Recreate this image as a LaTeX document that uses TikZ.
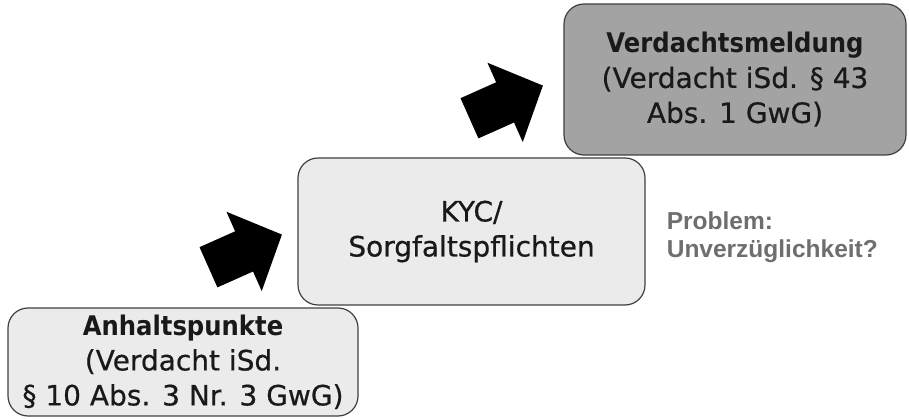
\documentclass[tikz,border=0pt]{standalone}
\usepackage{fontspec}
\setmainfont{DejaVu Sans}[UprightFeatures={FakeBold=0.6},BoldFeatures={FakeStretch=0.9}]
\newfontfamily\notefont{Liberation Sans}
\usetikzlibrary{positioning}
\definecolor{boxlight}{HTML}{EBEBEB}
\definecolor{boxdark}{HTML}{A3A3A3}
\definecolor{boxline}{HTML}{3F3F3F}
\definecolor{notegray}{HTML}{6E6E6E}
\tikzset{
  stage/.style={draw=boxline, line width=1.2pt, rounded corners=20pt,
    align=center, text=black!90, inner sep=0pt,
    font=\fontsize{28}{35}\selectfont},
  blockarrow/.pic={
    \fill (-40,-22) -- (-1,-22) -- (-1,-43.4) -- (40.4,0)
      -- (-1,43.4) -- (-1,22) -- (-40,22) -- cycle;}
}
\newcommand\steptitle[1]{{\fontsize{27}{35}\selectfont\bfseries #1}}
\begin{document}
\begin{tikzpicture}[x=1pt,y=1pt]
\useasboundingbox (0,0) rectangle (909,418);
% the three steps
\node[stage, fill=boxlight, minimum width=350pt, minimum height=108pt] (anhalt) at (183,56)
  {\steptitle{Anhaltspunkte}\\(Verdacht iSd.\\§ 10 Abs. 3 Nr. 3 GwG)};
\node[stage, fill=boxlight, minimum width=347pt, minimum height=147pt] (kyc) at (471.5,186.5)
  {KYC/\\Sorgfaltspflichten};
\node[stage, fill=boxdark, minimum width=342pt, minimum height=151pt] (meldung) at (735,338.5)
  {\steptitle{Verdachtsmeldung}\\(Verdacht iSd. § 43\\Abs. 1 GwG)};
% arrows between the steps
\pic[rotate=24] at (245,167) {blockarrow};
\pic[rotate=24] at (506,316) {blockarrow};
% remark
\node[right=21pt of kyc, yshift=-6pt, align=left, text=notegray, inner sep=0pt,
  font=\notefont\bfseries\fontsize{24.5}{28}\selectfont] (problem)
  {Problem:\\Unverzüglichkeit?};
\end{tikzpicture}
\end{document}
